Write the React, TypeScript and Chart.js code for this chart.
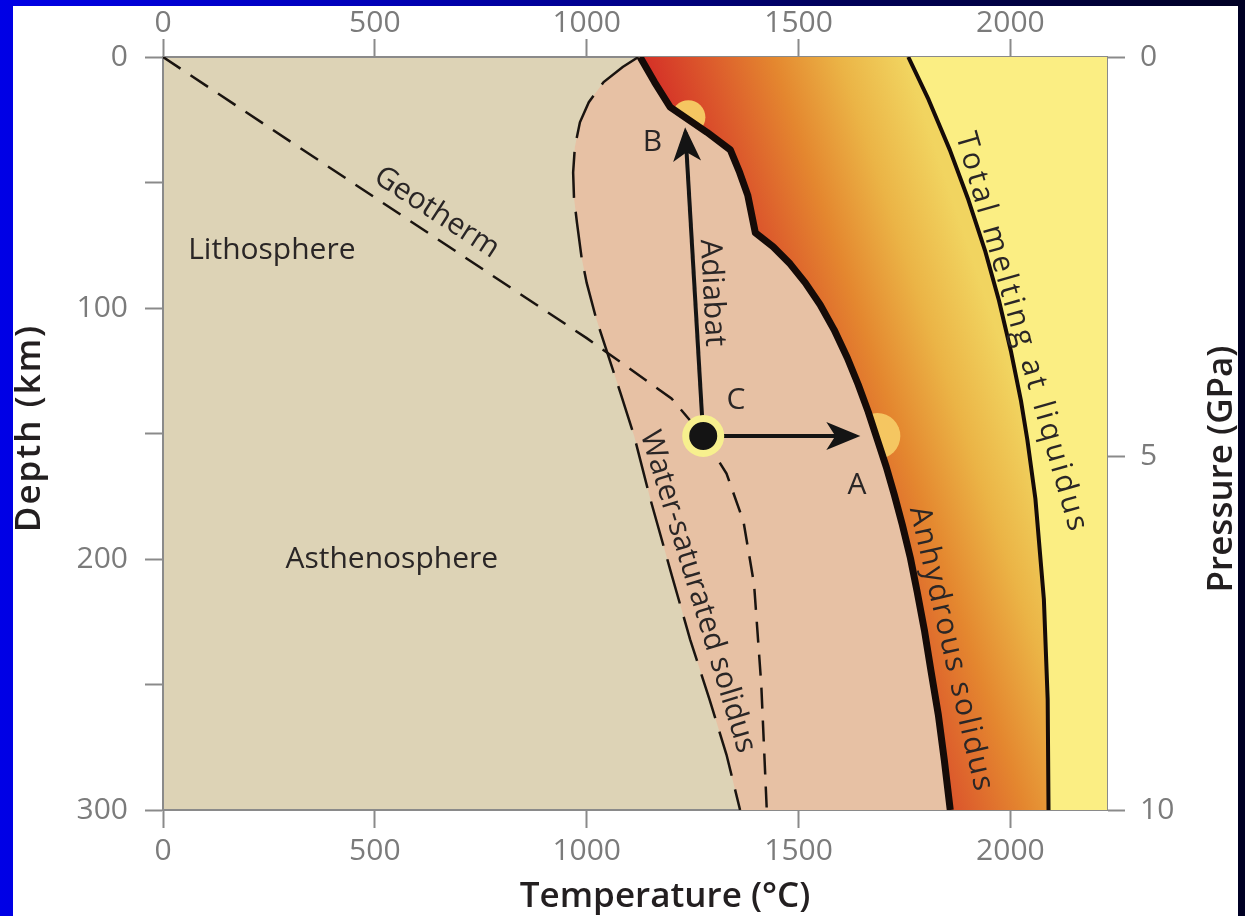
import React, { useEffect, useRef } from 'react';
import { Chart, registerables } from 'chart.js';

Chart.register(...registerables);

// ---------- data (temperature °C, depth km) ----------
const X_MAX = 2228;
const DEPTH_MAX = 300;
const TEMP_TICKS = [0, 500, 1000, 1500, 2000];
const DEPTH_TICKS = [0, 50, 100, 150, 200, 250, 300];
const DEPTH_LABELED = [0, 100, 200, 300];
const PRESSURE_LABELS = ['0', '5', '10'];
const PRESSURE_TICK_DEPTHS = [0, 159, 300];

const GEOTHERM: number[][] = [
  [0, 0], [1000, 112], [1200, 136], [1275, 151], [1330, 166], [1370, 185],
  [1395, 210], [1412, 250], [1425, 300],
];
const WATER_SAT_SOLIDUS: number[][] = [
  [1122, 0], [1085, 4], [1040, 10], [1005, 18], [984, 26], [972, 36], [968, 46],
  [970, 56], [977, 66], [988, 80], [1000, 90], [1022, 104], [1047, 117],
  [1080, 134], [1112, 151], [1150, 176], [1200, 206], [1244, 232], [1290, 256],
  [1330, 278], [1362, 300],
];
const ANHYDROUS_SOLIDUS: number[][] = [
  [1126, 0], [1160, 10], [1197, 20], [1284, 30], [1339, 37], [1361, 46],
  [1380, 55], [1398, 70], [1440, 75.6], [1480, 82.4], [1516, 90], [1551, 98.7],
  [1584, 108.7], [1615, 119.8], [1641, 130.6], [1664.5, 141.4], [1686, 152.5],
  [1707, 163.3], [1726, 174.4], [1745, 186.4], [1764, 199.6], [1780, 213.1],
  [1797, 228.3], [1813, 245], [1830, 262.2], [1844, 280.1], [1858, 300],
];
const LIQUIDUS: number[][] = [
  [1759, 0], [1807, 17], [1857, 37], [1901, 57], [1940, 77], [1973, 97],
  [2001, 117], [2025, 137], [2040, 152.5], [2059, 176], [2079, 216],
  [2088, 256], [2090, 300],
];
const POINT_C: number[] = [1275, 151];
const ADIABAT_TIP: number[] = [1233, 30];
const HEATING_TIP: number[] = [1634, 151];
const MELT_GLOWS: number[][] = [[1240, 24], [1686, 151]];

const ANNOTATIONS = [
  { text: 'Lithosphere', t: 257, d: 77, rot: 0 },
  { text: 'Asthenosphere', t: 540, d: 200, rot: 0 },
  { text: 'Geotherm', t: 646, d: 62, rot: 33 },
  { text: 'Adiabat', t: 1296, d: 94, rot: 87 },
  { text: 'B', t: 1155, d: 34, rot: 0 },
  { text: 'C', t: 1352, d: 137, rot: 0 },
  { text: 'A', t: 1638, d: 170.5, rot: 0 },
  { text: 'Water-saturated solidus', t: 1262, d: 213, rot: 73 },
  { text: 'Anhydrous solidus', t: 1860, d: 236, rot: 77, spacing: 2 },
  { text: 'Total melting at liquidus', t: 2026, d: 110, rot: 74, spacing: 3.2 },
];

// ---------- styles ----------
const FONT = '"Open Sans", "Noto Sans", sans-serif';
const AXIS_COLOR = '#8a8a8a';
const TICK_LABEL_COLOR = '#7b7b7b';
const TEXT_COLOR = '#2a2626';
const BEIGE = '#ddd3b6';
const PINK = '#e7c1a4';
const YELLOW = '#fbee83';
const LINE_BLACK = '#150b08';
const MELT_STOPS: [number, string][] = [
  [0, '#d42f27'], [0.25, '#dc5a2c'], [0.5, '#e4872f'], [0.75, '#ebb446'], [1, '#f1d460'],
];

const pts = (a: number[][]) => a.map(([x, y]) => ({ x, y }));

const plotBg = {
  id: 'plotBg',
  beforeDraw(chart: any) {
    const { ctx, chartArea: a } = chart;
    ctx.save();
    ctx.fillStyle = BEIGE;
    ctx.fillRect(a.left, a.top, a.width, a.height);
    ctx.restore();
  },
};

const ARROW_LEN = 34;
const ARROW_HALF = 14;
const ARROW_NOTCH = 9;
const ARROW_OVERSHOOT = 5;
const arrowHeads = {
  id: 'arrowHeads',
  afterDatasetsDraw(chart: any) {
    const ctx = chart.ctx;
    chart.data.datasets.forEach((ds: any, i: number) => {
      if (!ds.arrow) return;
      const el = chart.getDatasetMeta(i).data;
      const a = el[el.length - 2];
      const b = el[el.length - 1];
      const ang = Math.atan2(b.y - a.y, b.x - a.x);
      ctx.save();
      ctx.translate(b.x, b.y);
      ctx.rotate(ang);
      ctx.translate(ARROW_OVERSHOOT, 0);
      ctx.beginPath();
      ctx.moveTo(0, 0);
      ctx.lineTo(-ARROW_LEN, -ARROW_HALF);
      ctx.lineTo(-ARROW_LEN + ARROW_NOTCH, 0);
      ctx.lineTo(-ARROW_LEN, ARROW_HALF);
      ctx.closePath();
      ctx.fillStyle = '#141414';
      ctx.fill();
      ctx.restore();
    });
  },
};

const labels = {
  id: 'labels',
  afterDatasetsDraw(chart: any) {
    const { ctx, scales } = chart;
    ANNOTATIONS.forEach((an: any) => {
      const x = scales.x.getPixelForValue(an.t);
      const y = scales.y.getPixelForValue(an.d);
      ctx.save();
      ctx.translate(x, y);
      ctx.rotate((an.rot * Math.PI) / 180);
      ctx.font = `30px ${FONT}`;
      (ctx as any).letterSpacing = `${an.spacing || 0}px`;
      ctx.fillStyle = TEXT_COLOR;
      ctx.textAlign = 'center';
      ctx.textBaseline = 'middle';
      ctx.fillText(an.text, 0, 0);
      ctx.restore();
    });
  },
};

const axisTitles = {
  id: 'axisTitles',
  afterDraw(chart: any) {
    const ctx = chart.ctx;
    ctx.save();
    ctx.font = `600 35px ${FONT}`;
    ctx.fillStyle = '#231f20';
    ctx.textAlign = 'center';
    ctx.textBaseline = 'middle';
    ctx.fillText('Temperature (°C)', 652, 891);
    ctx.save();
    ctx.translate(17, 422);
    ctx.rotate(-Math.PI / 2);
    (ctx as any).letterSpacing = '2px';
    ctx.fillText('Depth (km)', 0, 0);
    ctx.restore();
    ctx.save();
    ctx.translate(1209, 463);
    ctx.rotate(-Math.PI / 2);
    ctx.fillText('Pressure (GPa)', 0, 0);
    ctx.restore();
    ctx.restore();
  },
};

const tickFont = { family: FONT, size: 30 };
const gridOpts = {
  drawOnChartArea: false,
  drawTicks: true,
  tickLength: 18,
  tickColor: AXIS_COLOR,
  tickWidth: 2,
};
const borderOpts = { color: AXIS_COLOR, width: 2 };

function tempAxis(position: string, size: number, padding: number) {
  return {
    type: 'linear',
    position,
    min: 0,
    max: X_MAX,
    z: 1,
    afterBuildTicks: (s: any) => {
      s.ticks = TEMP_TICKS.map((v) => ({ value: v }));
    },
    afterFit: (s: any) => {
      s.height = size;
    },
    ticks: {
      font: tickFont,
      color: TICK_LABEL_COLOR,
      padding,
      maxRotation: 0,
      autoSkip: false,
      callback: (v: any) => String(v),
    },
    grid: gridOpts,
    border: borderOpts,
  };
}

export default function App() {
  const ref = useRef<HTMLCanvasElement>(null);

  useEffect(() => {
    let chart: any = null;
    let cancelled = false;
    const make = () => {
      if (cancelled || !ref.current) return;
      const meltGradient = (c: any) => {
        const ch = c.chart;
        const a = ch.chartArea;
        if (!a || !ch.scales.x) return '#e4872f';
        const x0 = ch.scales.x.getPixelForValue(ANHYDROUS_SOLIDUS[0][0]);
        const y0 = a.top;
        const g = ch.ctx.createLinearGradient(x0, y0, x0 + 238, y0 - 80);
        MELT_STOPS.forEach(([o, col]) => g.addColorStop(o, col));
        return g;
      };
      const lineBase = { showLine: true, pointRadius: 0, fill: false, borderCapStyle: 'butt' };
      const shapeBase = {
        showLine: true,
        pointRadius: 0,
        borderWidth: 0,
        borderColor: 'rgba(0,0,0,0)',
        fill: 'shape',
      };
      chart = new Chart(ref.current, {
        type: 'scatter',
        data: {
          datasets: [
            {
              label: 'C',
              data: pts([POINT_C]),
              pointRadius: 17.5,
              pointBorderWidth: 7,
              pointBackgroundColor: '#141414',
              pointBorderColor: '#f7f08e',
            },
            { ...lineBase, label: 'Heating', data: pts([POINT_C, HEATING_TIP]), borderColor: '#141414', borderWidth: 4, arrow: true },
            { ...lineBase, label: 'Adiabat', data: pts([POINT_C, ADIABAT_TIP]), borderColor: '#141414', borderWidth: 4, arrow: true },
            { ...lineBase, label: 'Anhydrous solidus', data: pts(ANHYDROUS_SOLIDUS), borderColor: LINE_BLACK, borderWidth: 7, borderJoinStyle: 'round' },
            { ...lineBase, label: 'Liquidus', data: pts(LIQUIDUS), borderColor: LINE_BLACK, borderWidth: 4, borderJoinStyle: 'round' },
            { ...lineBase, label: 'Geotherm', data: pts(GEOTHERM), borderColor: '#1a1410', borderWidth: 2.5, borderDash: [21, 12] },
            { ...lineBase, label: 'Water-saturated solidus', data: pts(WATER_SAT_SOLIDUS), borderColor: '#1a1410', borderWidth: 2.5, borderDash: [46, 14] },
            {
              ...shapeBase,
              label: 'Partial melting region',
              data: pts([...WATER_SAT_SOLIDUS, ...ANHYDROUS_SOLIDUS.slice().reverse()]),
              backgroundColor: PINK,
            },
            {
              label: 'Melt',
              data: pts(MELT_GLOWS),
              pointRadius: [17, 23],
              pointBorderWidth: 0,
              pointBackgroundColor: '#f5c661',
            },
            {
              ...shapeBase,
              label: 'Dry melting region',
              data: pts([...ANHYDROUS_SOLIDUS, ...LIQUIDUS.slice().reverse()]),
              backgroundColor: meltGradient,
            },
            {
              ...shapeBase,
              label: 'Liquid',
              data: pts([...LIQUIDUS, [X_MAX, DEPTH_MAX], [X_MAX, 0]]),
              backgroundColor: YELLOW,
            },
          ] as any,
        },
        options: {
          animation: false,
          responsive: false,
          devicePixelRatio: 1,
          events: [],
          layout: { padding: 0 },
          plugins: {
            legend: { display: false },
            tooltip: { enabled: false },
            filler: { drawTime: 'beforeDatasetDraw', propagate: false },
          },
          scales: {
            x: tempAxis('bottom', 106, 5),
            x2: tempAxis('top', 51, -2),
            y: {
              type: 'linear',
              position: 'left',
              reverse: true,
              min: 0,
              max: DEPTH_MAX,
              z: 1,
              afterBuildTicks: (s: any) => {
                s.ticks = DEPTH_TICKS.map((v) => ({ value: v }));
              },
              afterFit: (s: any) => {
                s.width = 150;
              },
              ticks: {
                font: tickFont,
                color: TICK_LABEL_COLOR,
                padding: 17,
                autoSkip: false,
                callback: (v: any) => (DEPTH_LABELED.includes(v) ? String(v) : ''),
              },
              grid: gridOpts,
              border: borderOpts,
            },
            y2: {
              type: 'linear',
              position: 'right',
              reverse: true,
              min: 0,
              max: DEPTH_MAX,
              z: 1,
              afterBuildTicks: (s: any) => {
                s.ticks = PRESSURE_TICK_DEPTHS.map((v) => ({ value: v }));
              },
              afterFit: (s: any) => {
                s.width = 131;
              },
              ticks: {
                font: tickFont,
                color: TICK_LABEL_COLOR,
                padding: 15,
                autoSkip: false,
                callback: (_v: any, i: number) => PRESSURE_LABELS[i],
              },
              grid: gridOpts,
              border: borderOpts,
            },
          },
        } as any,
        plugins: [plotBg, arrowHeads, labels, axisTitles],
      });
    };
    const fontsReady = (document as any).fonts
      ? Promise.all([
          (document as any).fonts.load(`30px "Open Sans"`),
          (document as any).fonts.load(`600 35px "Open Sans"`),
        ]).catch(() => null)
      : Promise.resolve(null);
    fontsReady.then(make);
    return () => {
      cancelled = true;
      if (chart) chart.destroy();
    };
  }, []);

  return (
    <div
      style={{
        position: 'fixed',
        left: 0,
        top: 0,
        width: 1245,
        height: 916,
        overflow: 'hidden',
        background:
          'linear-gradient(to right, #0000e6 0%, #0000b8 30%, #00008a 50%, #00005a 67%, #000024 100%)',
      }}
    >
      <canvas
        ref={ref}
        width={1225}
        height={910}
        style={{
          position: 'absolute',
          left: 13,
          top: 6,
          width: 1225,
          height: 910,
          background: '#ffffff',
          display: 'block',
        }}
      />
    </div>
  );
}
